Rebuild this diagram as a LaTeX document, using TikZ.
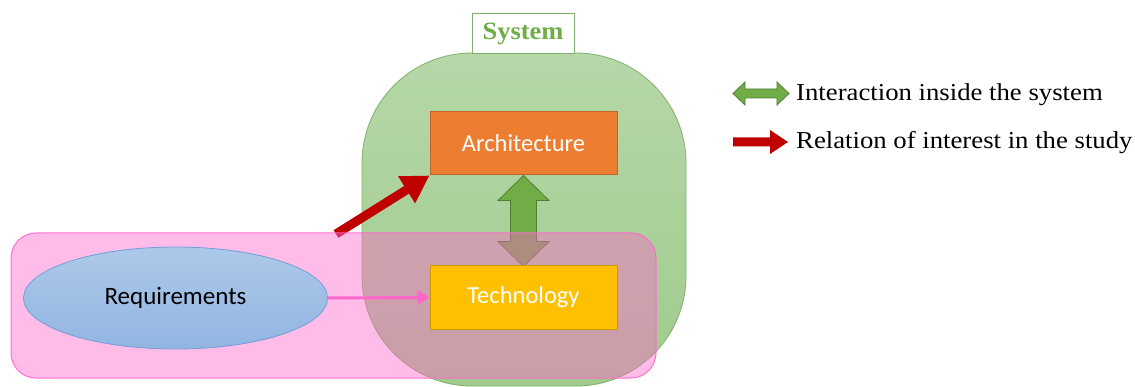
\documentclass[tikz,border=0pt]{standalone}
\usepackage{fontspec}
\usetikzlibrary{arrows.meta,shapes.geometric,calc}
\setmainfont{Liberation Serif}
\newfontfamily\boxfont{Carlito}
\newfontfamily\legendfont[FakeStretch=1.1]{Liberation Serif}
\newfontfamily\sysfont[FakeStretch=1.06]{Liberation Serif}
\definecolor{gfill}{HTML}{70AD47}
\definecolor{gdark}{HTML}{507E32}
\definecolor{gtop}{HTML}{B6D7A8}
\definecolor{gbot}{HTML}{A0CB8D}
\definecolor{gedge}{HTML}{7FB26A}
\definecolor{pinkc}{HTML}{FF66CC}
\definecolor{orangec}{HTML}{ED7D31}
\definecolor{orangeb}{HTML}{C0652A}
\definecolor{yellowc}{HTML}{FFC000}
\definecolor{yellowb}{HTML}{C99A00}
\definecolor{redc}{HTML}{C00000}
\definecolor{btop}{HTML}{ADC9E9}
\definecolor{bbot}{HTML}{92B5E1}
\definecolor{bedge}{HTML}{6F9FD8}
\tikzset{
  region/.style={draw=gedge, line width=0.8pt, top color=gtop, bottom color=gbot, rounded corners=110pt, inner sep=0pt},
  syslabel/.style={draw=gedge, line width=1pt, fill=white, inner sep=0pt, font=\sysfont\bfseries\fontsize{25}{28}\selectfont, text=gfill},
  boxnode/.style={draw, line width=1pt, inner sep=0pt, minimum width=187pt, minimum height=63pt, font=\boxfont\fontsize{24.5}{27}\selectfont, text=white},
  pinkregion/.style={draw=pinkc, line width=1pt, fill=pinkc, fill opacity=0.44, draw opacity=0.9, rounded corners=25pt, inner sep=0pt},
  reqnode/.style={ellipse, draw=bedge, line width=0.8pt, top color=btop, bottom color=bbot, inner sep=0pt, minimum width=304pt, minimum height=102pt, font=\boxfont\fontsize{25}{27}\selectfont, text=black},
  dblarrow/.style={fill=gfill, draw=gdark, line width=0.8pt, line join=miter},
  redarrow/.style={draw=redc, line width=9pt, -{Triangle[length=27pt,width=30pt]}},
  pinkarrow/.style={draw=pinkc, line width=3pt, -{Triangle[length=12pt,width=14pt]}},
  legendtext/.style={anchor=west, inner sep=0pt, font=\legendfont\fontsize{24.3}{26}\selectfont, text=black},
}
\begin{document}
\begin{tikzpicture}[x=1pt, y=-1pt]
\useasboundingbox (0,0) rectangle (1135,387);
% system region
\node[region, minimum width=324pt, minimum height=333pt] (sys) at (524,219.5) {};
\node[syslabel, minimum width=102pt, minimum height=40pt] (syslab) at (523,33.5) {System};
% architecture
\node[boxnode, draw=orangeb, fill=orangec] (arch) at (523.5,143.5) {Architecture};
% green double arrow
\draw[dblarrow] (arch.south) -- ++(25.5,25) -- ++(-12.5,0) -- ++(0,41) -- ++(12.5,0) -- ++(-25.5,25) coordinate (dbltip)
  -- ++(-25.5,-25) -- ++(12.5,0) -- ++(0,-41) -- ++(-12.5,0) -- cycle;
% red arrow
\coordinate (redtail) at (336,234);
\draw[redarrow] (redtail) -- (arch.south west);
% pink region
\node[pinkregion, minimum width=645pt, minimum height=145pt] (pink) at (333.5,305.5) {};
% requirements
\node[reqnode] (req) at (175.5,298) {Requirements};
% technology
\node[boxnode, draw=yellowb, fill=yellowc] (tech) at (523.5,297.5) {Technology};
\draw[pinkarrow] (req.east) -- (tech.west);
% legend
\draw[dblarrow] (733,93.5) coordinate (lg1) -- ++(12,-11.5) -- ++(0,7) -- ++(32,0) -- ++(0,-7) -- ++(12,11.5) coordinate (lg2)
  -- ++(-12,11.5) -- ++(0,-7) -- ++(-32,0) -- ++(0,7) -- cycle;
\fill[redc] (733,137.5) coordinate (lr1) -- (770,137.5) -- (770,130) -- (788,142) coordinate (lr2) -- (770,154) -- (770,146.5) -- (733,146.5) -- cycle;
\node[legendtext] (l1) at (796,95) {Interaction inside the system};
\node[legendtext] (l2) at (796,143) {Relation of interest in the study};
\end{tikzpicture}
\end{document}
